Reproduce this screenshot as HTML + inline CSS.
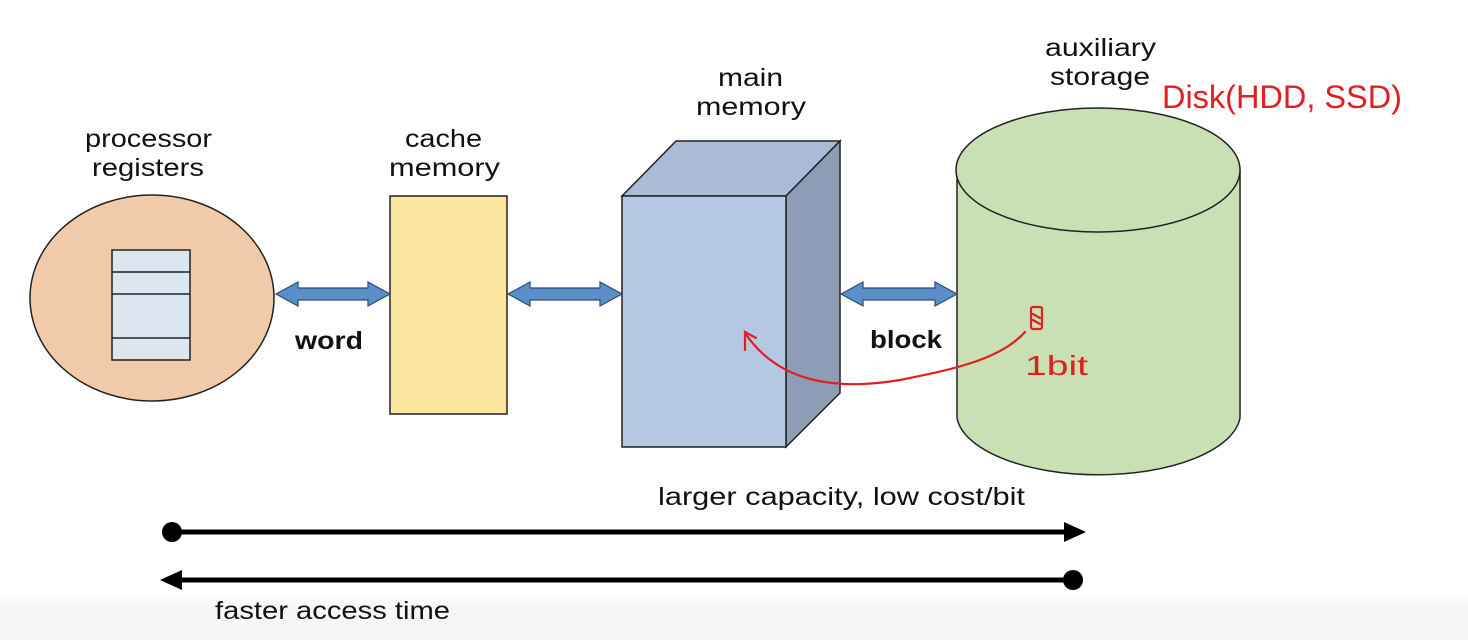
<!DOCTYPE html>
<html><head><style>body{margin:0;background:#fff}svg{display:block}</style></head><body>
<svg width="1468" height="640" xmlns="http://www.w3.org/2000/svg" font-family="Liberation Sans, sans-serif">
<rect x="0" y="605" width="1468" height="35" fill="#f6f6f6"/>
<rect x="0" y="595" width="1468" height="10" fill="#fbfbfb"/>
<ellipse cx="152" cy="298" rx="122" ry="103" fill="#f1cba9" stroke="#222" stroke-width="1.5"/>
<rect x="112" y="250" width="78" height="110" fill="#dce6f1" stroke="#222" stroke-width="1.5"/>
<g stroke="#222" stroke-width="1.5"><line x1="112" y1="272" x2="190" y2="272"/><line x1="112" y1="294" x2="190" y2="294"/><line x1="112" y1="338" x2="190" y2="338"/></g>
<rect x="390" y="196" width="117" height="218" fill="#fbe6a0" stroke="#222" stroke-width="1.5"/>
<polygon points="622,196 676,141 840,141 786,196" fill="#a9bbd6" stroke="#222" stroke-width="1.5"/>
<polygon points="786,196 840,141 840,393 786,447" fill="#8e9db6" stroke="#222" stroke-width="1.5"/>
<rect x="622" y="196" width="164" height="251" fill="#b5c8e3" stroke="#222" stroke-width="1.5"/>
<path d="M957,170 L957,418 A142,62 0 0 0 1240,418 L1240,170" fill="#c9e0b4" stroke="#222" stroke-width="1.5"/>
<ellipse cx="1098" cy="170" rx="142" ry="62" fill="#c9e0b4" stroke="#222" stroke-width="1.5"/>
<g fill="#5b8fc9" stroke="#2c4a73" stroke-width="1.2">
<polygon points="276,294 298,282 298,288 368,288 368,282 390,294 368,306 368,300 298,300 298,306"/>
<polygon points="508,294 530,282 530,288 600,288 600,282 622,294 600,306 600,300 530,300 530,306"/>
<polygon points="841,294 863,282 863,288 935,288 935,282 957,294 935,306 935,300 863,300 863,306"/>
</g>
<g font-size="25" fill="#111" lengthAdjust="spacingAndGlyphs">
<text x="85" y="147" textLength="127" lengthAdjust="spacingAndGlyphs">processor</text>
<text x="92" y="176" textLength="112" lengthAdjust="spacingAndGlyphs">registers</text>
<text x="405" y="147" textLength="77" lengthAdjust="spacingAndGlyphs">cache</text>
<text x="389" y="176" textLength="111" lengthAdjust="spacingAndGlyphs">memory</text>
<text x="718" y="86" textLength="65" lengthAdjust="spacingAndGlyphs">main</text>
<text x="696" y="115" textLength="110" lengthAdjust="spacingAndGlyphs">memory</text>
<text x="1045" y="56" textLength="111" lengthAdjust="spacingAndGlyphs">auxiliary</text>
<text x="1050" y="85" textLength="100" lengthAdjust="spacingAndGlyphs">storage</text>
<text x="295" y="349" font-weight="bold" textLength="68" lengthAdjust="spacingAndGlyphs">word</text>
<text x="870" y="348" font-weight="bold" textLength="72" lengthAdjust="spacingAndGlyphs">block</text>
<text x="658" y="505" textLength="367" lengthAdjust="spacingAndGlyphs">larger capacity, low cost/bit</text>
<text x="215" y="619" textLength="235" lengthAdjust="spacingAndGlyphs">faster access time</text>
</g>
<line x1="172" y1="532" x2="1068" y2="532" stroke="#000" stroke-width="5"/>
<circle cx="172" cy="532" r="10" fill="#000"/>
<polygon points="1064,522 1086,532 1064,542" fill="#000"/>
<line x1="178" y1="580" x2="1073" y2="580" stroke="#000" stroke-width="5"/>
<circle cx="1073" cy="580" r="10" fill="#000"/>
<polygon points="182,570 160,580 182,590" fill="#000"/>
<g stroke="#e02020" stroke-width="2.2" fill="none" stroke-linecap="round">
<path d="M1025,332 C1000,360 950,370 900,380 C840,390 780,385 745,333"/>
<path d="M745,350 L745,332 L756,338"/>
<rect x="1031" y="307" width="11" height="22" rx="2"/>
<path d="M1033,314 L1040,318 M1033,320 L1040,324"/>
</g>
<g fill="#e02020" font-family="Liberation Sans, sans-serif" font-size="32">
<text x="1162" y="108" textLength="240" lengthAdjust="spacingAndGlyphs" font-weight="300">Disk(HDD, SSD)</text>
<text x="1025" y="375" font-size="28" textLength="63" lengthAdjust="spacingAndGlyphs">1bit</text>
</g>
</svg>
</body></html>
